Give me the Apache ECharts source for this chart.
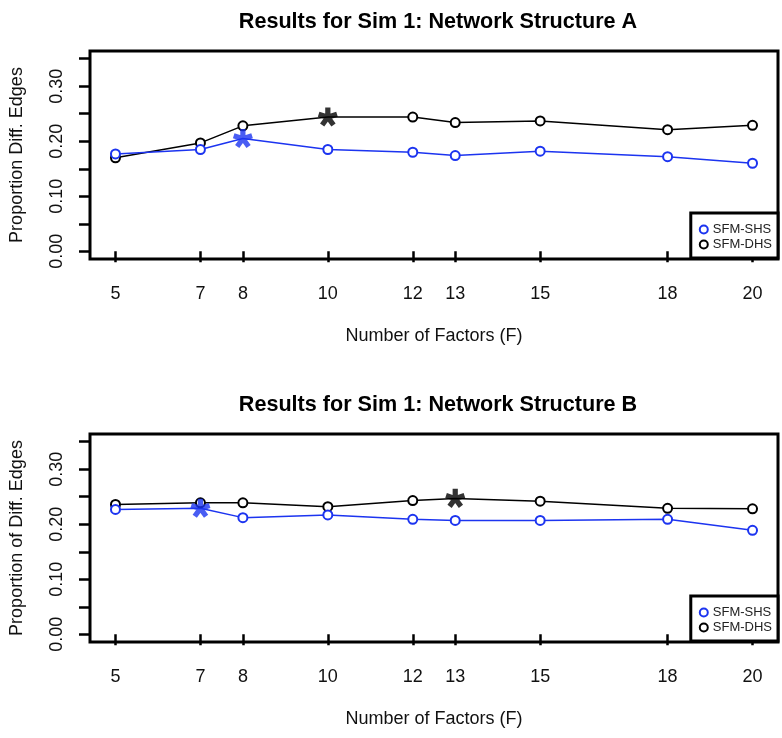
<!DOCTYPE html>
<html>
<head>
<meta charset="utf-8">
<script src="https://cdn.jsdelivr.net/npm/echarts@6/dist/echarts.min.js"></script>
<style>
html, body { margin: 0; padding: 0; background: #fff; }
#main { width: 782px; height: 738px; }
</style>
</head>
<body>
<div id="main"></div>
<script>
// number of factors (x)
var factors = [5, 7, 8, 10, 12, 13, 15, 18, 20]
// Structure A
var shsA = [0.177, 0.185, 0.205, 0.185, 0.180, 0.174, 0.182, 0.172, 0.160]
var dhsA = [0.170, 0.197, 0.228, 0.244, 0.244, 0.234, 0.237, 0.221, 0.229]
// Structure B
var shsB = [0.227, 0.229, 0.212, 0.217, 0.209, 0.207, 0.207, 0.209, 0.189]
var dhsB = [0.236, 0.239, 0.239, 0.232, 0.243, 0.247, 0.242, 0.229, 0.228]
// best F for each panel [A, B]
var bestShs = [8, 7]
var bestDhs = [10, 13]
// y ticks and labels
var yTicks = [0, 0.05, 0.1, 0.15, 0.2, 0.25, 0.3, 0.35]
var yLabels = [0, 0.1, 0.2, 0.3]
var titles = ['Results for Sim 1: Network Structure A', 'Results for Sim 1: Network Structure B']
var yNames = ['Proportion Diff. Edges', 'Proportion of Diff. Edges']

var FONT = 'Liberation Sans'
var BLUE = '#1c34f0'
var BLACK = '#000'

// 5 armed asterisk, like the "*" glyph
function starPath(arms, w) {
    var s = 'path://'
    for (var k = 0; k < arms; k++) {
        var t = k * 2 * Math.PI / arms
        var dx = Math.sin(t), dy = -Math.cos(t)
        var nx = Math.cos(t), ny = Math.sin(t)
        var pts = [
            [-w * nx - 0.2 * dx, -w * ny - 0.2 * dy],
            [-w * nx + dx, -w * ny + dy],
            [w * nx + dx, w * ny + dy],
            [w * nx - 0.2 * dx, w * ny - 0.2 * dy]
        ]
        s += 'M' + pts.map(function (q) { return q[0].toFixed(3) + ',' + q[1].toFixed(3) }).join('L') + 'Z'
    }
    return s
}
var STAR = starPath(5, 0.27)

var chart = echarts.init(document.getElementById('main'))

var gridTops = [51, 434]
var grids = [], xAxes = [], yAxes = [], titleList = [], legends = [], series = []

function lineData(vals, best) {
    return factors.map(function (f, i) {
        var d = { value: [f, vals[i]] }
        if (f === best) d.symbol = 'none'
        return d
    })
}

for (var p = 0; p < 2; p++) {
    grids.push({
        left: 88, right: 4, top: gridTops[p], height: 208,
        show: true, borderColor: '#000', borderWidth: 3
    })
    titleList.push({
        text: titles[p], left: 433, top: gridTops[p] - 45, textAlign: 'center',
        textStyle: { fontFamily: FONT, fontSize: 21.6, fontWeight: 'bold', color: '#000' }
    })
    xAxes.push({
        type: 'value', gridIndex: p, min: 4.4, max: 20.6,
        name: 'Number of Factors (F)', nameLocation: 'middle', nameGap: 68,
        nameTextStyle: { fontFamily: FONT, fontSize: 18, color: '#111' },
        axisLine: { show: false },
        axisTick: { show: true, length: 11, customValues: factors, lineStyle: { color: '#000', width: 2.5 } },
        axisLabel: { customValues: factors, margin: 26, fontFamily: FONT, fontSize: 18, color: '#111' },
        splitLine: { show: false }
    })
    yAxes.push({
        type: 'value', gridIndex: p, min: -0.014, max: 0.364,
        name: yNames[p], nameLocation: 'middle', nameGap: 64,
        nameTextStyle: { fontFamily: FONT, fontSize: 18, color: '#111' },
        axisLine: { show: false },
        axisTick: { show: true, length: 11, customValues: yTicks, lineStyle: { color: '#000', width: 2.5 } },
        axisLabel: {
            customValues: yLabels, rotate: 90, margin: 24,
            fontFamily: FONT, fontSize: 18, color: '#111',
            formatter: function (v) { return v.toFixed(2) }
        },
        splitLine: { show: false }
    })
    legends.push({
        data: ['SFM-SHS', 'SFM-DHS'], orient: 'vertical',
        right: 4, top: gridTops[p] + 162,
        backgroundColor: '#fff', borderColor: '#000', borderWidth: 3,
        padding: [10, 6, 7, 8], itemGap: 2, itemWidth: 8, itemHeight: 8,
        icon: 'emptyCircle',
        textStyle: { fontFamily: FONT, fontSize: 13, color: '#222' }
    })
    var shs = p === 0 ? shsA : shsB
    var dhs = p === 0 ? dhsA : dhsB
    series.push({
        name: 'SFM-DHS', type: 'line', xAxisIndex: p, yAxisIndex: p,
        data: lineData(dhs, bestDhs[p]), symbol: 'emptyCircle', symbolSize: 9,
        lineStyle: { color: BLACK, width: 1.5 },
        itemStyle: { color: BLACK, borderWidth: 1.5 }
    })
    series.push({
        name: 'SFM-SHS', type: 'line', xAxisIndex: p, yAxisIndex: p,
        data: lineData(shs, bestShs[p]), symbol: 'emptyCircle', symbolSize: 9,
        lineStyle: { color: BLUE, width: 1.5 },
        itemStyle: { color: BLUE, borderWidth: 1.5 }
    })
    // stars at the chosen F
    series.push({
        name: 'best-dhs-' + p, type: 'scatter', xAxisIndex: p, yAxisIndex: p,
        data: [[bestDhs[p], dhs[factors.indexOf(bestDhs[p])]]],
        symbol: STAR, symbolSize: 20, symbolKeepAspect: true, itemStyle: { color: BLACK }, z: 5
    })
    series.push({
        name: 'best-shs-' + p, type: 'scatter', xAxisIndex: p, yAxisIndex: p,
        data: [[bestShs[p], shs[factors.indexOf(bestShs[p])]]],
        symbol: STAR, symbolSize: 20, symbolKeepAspect: true, itemStyle: { color: BLUE }, z: 5
    })
}

chart.setOption({
    backgroundColor: '#fff',
    animation: false,
    title: titleList,
    grid: grids,
    xAxis: xAxes,
    yAxis: yAxes,
    legend: legends,
    series: series
})
</script>
</body>
</html>
